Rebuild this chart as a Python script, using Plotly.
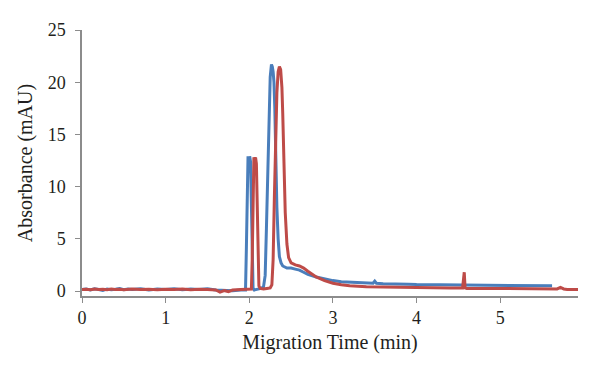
import plotly.graph_objects as go

# Blue trace (run 1)
blue_time = [0.00, 0.05, 0.10, 0.15, 0.20, 0.25, 0.30, 0.35, 0.40, 0.45, 0.50, 0.55, 0.60, 0.70, 0.80, 0.90,
             1.00, 1.10, 1.20, 1.30, 1.40, 1.50, 1.60, 1.70, 1.80, 1.90, 1.955,
             1.965, 1.975, 1.985, 1.995, 2.005, 2.015, 2.025, 2.035, 2.045, 2.06, 2.10, 2.14, 2.17,
             2.19, 2.205, 2.22, 2.235, 2.25, 2.265, 2.275, 2.285, 2.295, 2.305, 2.315, 2.33, 2.345,
             2.36, 2.38, 2.40, 2.45, 2.50, 2.55, 2.60, 2.65, 2.70, 2.80, 2.90, 3.00, 3.10, 3.20,
             3.30, 3.40, 3.48, 3.50, 3.52, 3.60, 3.70, 3.80, 3.90, 4.00, 4.20, 4.40, 4.60, 4.80,
             5.00, 5.20, 5.40, 5.55, 5.62]
blue_abs = [0.15, 0.20, 0.10, 0.22, 0.15, 0.05, 0.20, 0.12, 0.18, 0.25, 0.12, 0.20, 0.15, 0.22, 0.10, 0.20,
            0.15, 0.22, 0.12, 0.20, 0.15, 0.22, 0.10, 0.05, 0.02, 0.10, 0.10,
            4.0, 11.5, 12.9, 12.3, 12.9, 12.4, 8.0, 2.0, 0.3, 0.10, 0.15, 0.25, 0.40,
            1.5, 6.0, 12.0, 17.0, 20.5, 21.7, 21.5, 21.0, 20.0, 17.5, 13.0, 8.0, 5.0,
            3.3, 2.7, 2.4, 2.2, 2.2, 2.1, 2.0, 1.8, 1.6, 1.35, 1.15, 1.0, 0.9, 0.85,
            0.8, 0.75, 0.75, 0.95, 0.75, 0.7, 0.7, 0.65, 0.65, 0.62, 0.6, 0.58, 0.57, 0.57,
            0.55, 0.55, 0.52, 0.52, 0.5]

# Red trace (run 2)
red_time = [0.00, 0.05, 0.10, 0.15, 0.20, 0.25, 0.30, 0.35, 0.40, 0.45, 0.50, 0.60, 0.70, 0.80, 0.90,
            1.00, 1.10, 1.20, 1.30, 1.40, 1.50, 1.60, 1.65, 1.70, 1.75, 1.80, 1.90, 2.00, 2.025,
            2.035, 2.045, 2.055, 2.065, 2.075, 2.085, 2.095, 2.105, 2.115, 2.13, 2.17, 2.21, 2.25,
            2.27, 2.285, 2.30, 2.315, 2.33, 2.345, 2.36, 2.375, 2.39, 2.40, 2.415, 2.43, 2.45, 2.47,
            2.50, 2.55, 2.60, 2.65, 2.70, 2.75, 2.80, 2.90, 3.00, 3.10, 3.20, 3.40, 3.60, 3.80,
            4.00, 4.20, 4.40, 4.55, 4.57, 4.58, 4.60, 4.80, 5.00, 5.20, 5.40, 5.60, 5.68, 5.72,
            5.76, 5.80, 5.93]
red_abs = [0.15, 0.18, 0.12, 0.20, 0.15, 0.18, 0.12, 0.20, 0.15, 0.18, 0.12, 0.20, 0.15, 0.18, 0.12,
           0.18, 0.15, 0.20, 0.12, 0.18, 0.15, 0.10, -0.10, 0.05, -0.05, 0.10, 0.15, 0.15, 0.20,
           3.0, 10.5, 12.8, 12.4, 12.8, 12.2, 9.0, 3.0, 0.5, 0.25, 0.20, 0.25, 0.30,
           0.6, 3.0, 9.0, 15.0, 19.0, 21.0, 21.5, 21.2, 19.5, 17.0, 12.0, 7.5, 4.5, 3.2,
           2.7, 2.5, 2.4, 2.2, 1.9, 1.6, 1.35, 1.0, 0.75, 0.6, 0.5, 0.42, 0.38, 0.35,
           0.32, 0.30, 0.28, 0.28, 1.8, 0.30, 0.25, 0.25, 0.25, 0.22, 0.22, 0.2, 0.2, 0.35,
           0.2, 0.15, 0.15]

x_ticks = [0, 1, 2, 3, 4, 5]
y_ticks = [0, 5, 10, 15, 20, 25]

fig = go.Figure()
fig.add_trace(go.Scatter(x=blue_time, y=blue_abs, mode="lines",
                         line=dict(color="#4a7ebb", width=3), name="Run 1"))
fig.add_trace(go.Scatter(x=red_time, y=red_abs, mode="lines",
                         line=dict(color="#be4b48", width=3), name="Run 2"))

font_family = "Liberation Serif"
# page body has an 8px default margin; margins compensate for it
fig.update_layout(
    width=600, height=372,
    margin=dict(l=74, r=30, t=20, b=84),
    paper_bgcolor="white", plot_bgcolor="white",
    showlegend=False,
    font=dict(family=font_family, size=18, color="#231f20"),
)
fig.update_xaxes(
    range=[0, 5.93], tickvals=x_ticks, ticktext=[str(v) for v in x_ticks],
    showgrid=False, zeroline=False, showline=True, linecolor="#8c8c8c", linewidth=1.5,
    ticks="outside", ticklen=5, tickcolor="#8c8c8c", tickwidth=1,
    title=dict(text="Migration Time (min)", standoff=8, font=dict(size=20)),
    tickfont=dict(size=18),
)
fig.update_yaxes(
    range=[-0.475, 25], tickvals=y_ticks, ticktext=[str(v) for v in y_ticks],
    showgrid=False, zeroline=False, showline=True, linecolor="#8c8c8c", linewidth=1.5,
    ticks="outside", ticklen=5, tickcolor="#8c8c8c", tickwidth=1,
    ticklabelstandoff=6,
    title=dict(text="Absorbance (mAU)", standoff=10, font=dict(size=20)),
    tickfont=dict(size=18),
)
fig.write_html("out.html")
